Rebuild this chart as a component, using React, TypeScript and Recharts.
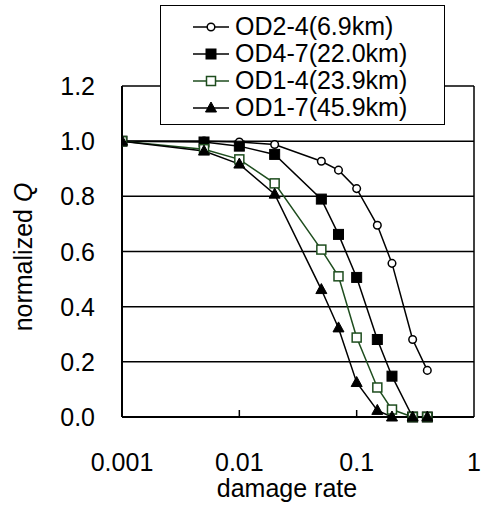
import React from 'react';
import { LineChart, Line, XAxis, YAxis, CartesianGrid, ReferenceLine, Legend, Label } from 'recharts';

const damageRate = [0.001, 0.005, 0.01, 0.02, 0.05, 0.07, 0.1, 0.15, 0.2, 0.3, 0.4];
const od24 = [1.0, 1.0, 0.997, 0.988, 0.927, 0.895, 0.828, 0.695, 0.557, 0.281, 0.169];
const od47 = [1.0, 0.997, 0.982, 0.952, 0.79, 0.662, 0.506, 0.281, 0.148, 0.0, 0.0];
const od14 = [1.0, 0.971, 0.934, 0.847, 0.607, 0.51, 0.288, 0.107, 0.027, 0.0, 0.0];
const od17 = [1.0, 0.964, 0.917, 0.808, 0.462, 0.323, 0.125, 0.024, 0.0, 0.0, 0.0];
const xTicks = [0.001, 0.01, 0.1, 1];
const xTickLabels = ['0.001', '0.01', '0.1', '1'];
const yTicks = [0, 0.2, 0.4, 0.6, 0.8, 1.0, 1.2];

const seriesNames = ['OD2-4(6.9km)', 'OD4-7(22.0km)', 'OD1-4(23.9km)', 'OD1-7(45.9km)'];
const seriesKeys = ['od24', 'od47', 'od14', 'od17'];
const GREEN = '#1e4d1e';
const seriesColors = ['#000', '#000', GREEN, '#000'];

const data = damageRate.map((d, i) => ({
  x: d,
  od24: od24[i],
  od47: od47[i],
  od14: od14[i],
  od17: od17[i],
}));

const FONT = 'Arial, "Liberation Sans", sans-serif';
const FS = 25;

function Marker({ kind, cx, cy, color }: { kind: number; cx: number; cy: number; color: string }) {
  if (cx == null || cy == null) return null;
  if (kind === 0) return <circle cx={cx} cy={cy} r={3.8} fill="#fff" stroke={color} strokeWidth={1.5} />;
  if (kind === 1) return <rect x={cx - 5} y={cy - 5} width={10} height={10} fill={color} stroke={color} strokeWidth={1} />;
  if (kind === 2) return <rect x={cx - 4.5} y={cy - 4.5} width={9} height={9} fill="#fff" stroke={color} strokeWidth={1.5} />;
  return <polygon points={`${cx},${cy - 6} ${cx + 5.5},${cy + 4} ${cx - 5.5},${cy + 4}`} fill={color} stroke={color} strokeWidth={1} />;
}

const makeDot = (kind: number, color: string) => (props: any) => (
  <Marker key={`${kind}-${props.index}`} kind={kind} cx={props.cx} cy={props.cy} color={color} />
);

const XTick = (props: any) => {
  const { x, y, payload } = props;
  const idx = xTicks.indexOf(payload.value);
  const axisY = y - 36;
  return (
    <g>
      {idx > 0 && idx < xTicks.length - 1 && (
        <line x1={x} x2={x} y1={axisY} y2={axisY - 7} stroke="#000" strokeWidth={1.5} />
      )}
      <text x={x} y={y} dy="0.71em" textAnchor="middle" fontSize={FS} fontFamily={FONT} fill="#000">
        {idx >= 0 ? xTickLabels[idx] : String(payload.value)}
      </text>
    </g>
  );
};

const YTick = (props: any) => {
  const { x, y, payload } = props;
  return (
    <text x={x} y={y} dy="0.36em" textAnchor="end" fontSize={FS} fontFamily={FONT} fill="#000">
      {Number(payload.value).toFixed(1)}
    </text>
  );
};

const LegendBox = () => (
  <div
    style={{
      width: 285,
      height: 120,
      boxSizing: 'border-box',
      border: '1.5px solid #000',
      background: '#fff',
      paddingTop: 7,
    }}
  >
    {seriesNames.map((n, i) => (
      <div key={n} style={{ display: 'flex', alignItems: 'center', height: 27, marginLeft: 31 }}>
        <svg width={40} height={20} style={{ display: 'block' }}>
          <line x1={1} x2={37} y1={10} y2={10} stroke={seriesColors[i]} strokeWidth={1.5} />
          <Marker kind={i} cx={19} cy={10} color={seriesColors[i]} />
        </svg>
        <span style={{ fontFamily: FONT, fontSize: FS, lineHeight: '27px', marginLeft: 3, color: '#000' }}>{n}</span>
      </div>
    ))}
  </div>
);

export default function App() {
  return (
    <div style={{ position: 'absolute', left: 0, top: 0, background: '#fff' }}>
      <LineChart width={485} height={510} data={data} margin={{ top: 86, right: 11, bottom: 33, left: 62 }}>
        <CartesianGrid vertical={false} stroke="#000" strokeWidth={1.5} />
        <XAxis
          dataKey="x"
          type="number"
          scale="log"
          domain={[0.001, 1]}
          ticks={xTicks}
          allowDataOverflow
          axisLine={{ stroke: '#000', strokeWidth: 2 }}
          tickLine={false}
          tickSize={34}
          tickMargin={2}
          tick={<XTick />}
          height={60}
        >
          <Label
            content={() => (
              <text x={287} y={497} textAnchor="middle" fontSize={FS} fontFamily={FONT} fill="#000">
                damage rate
              </text>
            )}
          />
        </XAxis>
        <YAxis
          type="number"
          domain={[0, 1.2]}
          ticks={yTicks}
          axisLine={{ stroke: '#000', strokeWidth: 2 }}
          tickLine={false}
          tickSize={25}
          tickMargin={2}
          tick={<YTick />}
          width={60}
        >
          <Label
            content={() => (
              <text
                x={32}
                y={257}
                transform="rotate(-90 32 257)"
                textAnchor="middle"
                fontSize={FS}
                fontFamily={FONT}
                fill="#000"
              >
                normalized <tspan fontStyle="italic">Q</tspan>
              </text>
            )}
          />
        </YAxis>
        <ReferenceLine x={1} stroke="#000" strokeWidth={1.5} />
        {seriesKeys.map((k, i) => (
          <Line
            key={k}
            dataKey={k}
            name={seriesNames[i]}
            stroke={seriesColors[i]}
            strokeWidth={1.5}
            dot={makeDot(i, seriesColors[i])}
            isAnimationActive={false}
          />
        ))}
        <Legend
          layout="vertical"
          align="center"
          verticalAlign="middle"
          content={<LegendBox />}
          wrapperStyle={{ position: 'absolute', left: 160, top: 5, width: 285, height: 120 }}
        />
      </LineChart>
    </div>
  );
}
